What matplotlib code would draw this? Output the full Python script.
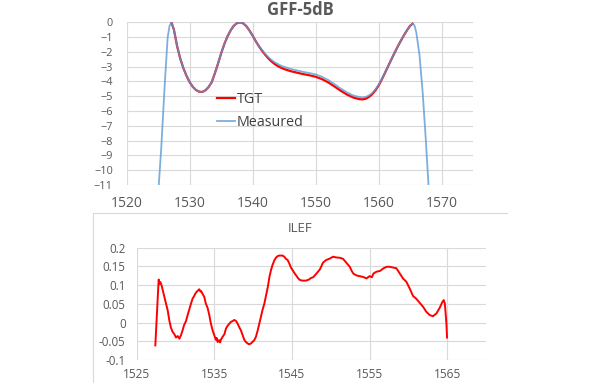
import matplotlib
matplotlib.use('Agg')
import matplotlib.pyplot as plt
from matplotlib.lines import Line2D

plt.rcParams['font.family'] = ['Open Sans', 'DejaVu Sans']

# GFF-5dB: wavelength (nm) and loss (dB)
gff_wl = [1525.0, 1525.5, 1526.0, 1526.5, 1526.8, 1527.1, 1527.5, 1528.0,
          1528.5, 1529.0, 1529.5, 1530.0, 1530.5, 1531.0, 1531.5, 1532.0,
          1532.5, 1533.0, 1533.5, 1534.0, 1534.5, 1535.0, 1535.5, 1536.0,
          1536.5, 1537.0, 1537.5, 1538.0, 1538.5, 1539.0, 1539.5, 1540.0,
          1540.5, 1541.0, 1541.5, 1542.0, 1542.5, 1543.0, 1543.5, 1544.0,
          1544.5, 1545.0, 1546.0, 1547.0, 1548.0, 1549.0, 1550.0, 1551.0,
          1552.0, 1553.0, 1554.0, 1555.0, 1556.0, 1557.0, 1557.5, 1558.0,
          1558.5, 1559.0, 1559.5, 1560.0, 1560.5, 1561.0, 1561.5, 1562.0,
          1562.5, 1563.0, 1563.5, 1564.0, 1564.5, 1565.0, 1565.4, 1565.7,
          1566.0, 1566.5, 1567.0, 1567.5, 1568.0]
measured = [-11.6, -8.4, -4.5, -1.05, -0.25, 0.0, -0.5, -1.6,
            -2.45, -3.1, -3.62, -4.05, -4.36, -4.58, -4.69, -4.71,
            -4.6, -4.38, -4.05, -3.45, -2.8, -2.1, -1.48, -0.96,
            -0.55, -0.24, -0.06, 0.0, -0.07, -0.26, -0.56, -0.9,
            -1.28, -1.6, -1.88, -2.14, -2.36, -2.55, -2.7, -2.82,
            -2.93, -3.01, -3.15, -3.25, -3.35, -3.43, -3.52, -3.68,
            -3.9, -4.18, -4.48, -4.74, -4.95, -5.06, -5.08, -5.04,
            -4.94, -4.78, -4.54, -4.24, -3.86, -3.43, -2.99, -2.54,
            -2.1, -1.68, -1.28, -0.9, -0.55, -0.24, -0.1, -0.2,
            -0.7, -2.2, -4.7, -7.9, -11.5]

# target is only given across the band
tgt_wl = gff_wl[5:71]
tgt = [0.0, -0.5, -1.6,
       -2.45, -3.1, -3.62, -4.05, -4.36, -4.58, -4.69, -4.71,
       -4.6, -4.38, -4.05, -3.45, -2.8, -2.1, -1.48, -0.96,
       -0.55, -0.24, -0.06, 0.0, -0.07, -0.26, -0.56, -0.9,
       -1.28, -1.62, -1.92, -2.2, -2.44, -2.65, -2.82, -2.96,
       -3.07, -3.16, -3.3, -3.4, -3.5, -3.58, -3.68, -3.84,
       -4.06, -4.34, -4.63, -4.89, -5.09, -5.2, -5.21, -5.16,
       -5.04, -4.86, -4.6, -4.28, -3.88, -3.44, -2.99, -2.54,
       -2.1, -1.68, -1.28, -0.9, -0.55, -0.24, -0.1]

# ILEF
ilef_wl = [1527.4, 1527.83, 1527.95, 1528.05, 1528.2, 1528.35, 1528.45,
           1528.56, 1528.77, 1528.99, 1529.2, 1529.4, 1529.63, 1529.85,
           1530.06, 1530.28, 1530.5, 1530.7, 1530.92, 1531.1, 1531.35,
           1531.56, 1531.8, 1532.0, 1532.2, 1532.4, 1532.6, 1532.85, 1533.06,
           1533.2, 1533.3, 1533.5, 1533.7, 1533.9, 1534.14, 1534.35, 1534.56,
           1534.78, 1535.0, 1535.2, 1535.3, 1535.43, 1535.6, 1535.75, 1535.86,
           1536.07, 1536.3, 1536.5, 1536.7, 1536.93, 1537.15, 1537.36, 1537.57,
           1537.8, 1538.0, 1538.2, 1538.43, 1538.65, 1538.86, 1539.07, 1539.3,
           1539.5, 1539.7, 1539.9, 1540.15, 1540.36, 1540.6, 1540.8, 1541.0,
           1541.2, 1541.45, 1541.67, 1541.9, 1542.1, 1542.3, 1542.5, 1542.75,
           1542.96, 1543.2, 1543.4, 1543.6, 1543.8, 1544.0, 1544.2, 1544.44,
           1544.66, 1544.87, 1545.08, 1545.3, 1545.5, 1545.7, 1545.94, 1546.15,
           1546.37, 1546.8, 1547.2, 1547.45, 1547.73, 1548.16, 1548.6, 1549.0,
           1549.4, 1549.88, 1550.3, 1550.7, 1551.2, 1551.6, 1552.0, 1552.45,
           1552.7, 1552.9, 1553.3, 1553.7, 1554.17, 1554.6, 1555.0, 1555.3,
           1555.5, 1555.9, 1556.35, 1556.8, 1557.2, 1557.6, 1558.0, 1558.46,
           1558.9, 1559.3, 1559.74, 1560.17, 1560.6, 1561.0, 1561.45, 1561.9,
           1562.3, 1562.75, 1563.17, 1563.6, 1564.0, 1564.38, 1564.55, 1564.7,
           1564.9, 1564.98]
ilef = [-0.061, 0.115, 0.104, 0.108, 0.1, 0.087, 0.079,
        0.069, 0.051, 0.033, 0.006, -0.013, -0.025, -0.031,
        -0.04, -0.036, -0.043, -0.034, -0.02, -0.007, 0.004,
        0.02, 0.037, 0.051, 0.064, 0.071, 0.079, 0.085, 0.089,
        0.083, 0.084, 0.076, 0.069, 0.051, 0.039, 0.02, -0.003,
        -0.021, -0.034, -0.046, -0.041, -0.052, -0.047, -0.053, -0.045,
        -0.038, -0.031, -0.016, -0.009, -0.003, 0.002, 0.004, 0.007,
        0.004, -0.003, -0.012, -0.021, -0.034, -0.046, -0.052, -0.056,
        -0.058, -0.056, -0.052, -0.047, -0.038, -0.02, -0.003, 0.015,
        0.033, 0.051, 0.073, 0.096, 0.122, 0.14, 0.154, 0.167,
        0.174, 0.178, 0.179, 0.179, 0.179, 0.176, 0.171, 0.167,
        0.158, 0.147, 0.14, 0.133, 0.127, 0.121, 0.115, 0.113,
        0.112, 0.112, 0.115, 0.119, 0.121, 0.131, 0.142, 0.16,
        0.167, 0.171, 0.176, 0.174, 0.173, 0.17, 0.16, 0.149,
        0.138, 0.131, 0.126, 0.124, 0.122, 0.118, 0.124, 0.121,
        0.131, 0.136, 0.138, 0.145, 0.149, 0.149, 0.147, 0.145,
        0.131, 0.118, 0.109, 0.091, 0.071, 0.064, 0.053, 0.042,
        0.029, 0.02, 0.017, 0.024, 0.038, 0.055, 0.06, 0.051,
        -0.003, -0.04]

grid_c = '#d9d9d9'
txt_c = '#595959'

fig = plt.figure(figsize=(6, 3.83), dpi=100)

# top chart
ax1 = fig.add_axes([126.7 / 600, 1 - 185 / 383, 346.3 / 600, 162.7 / 383])
ax1.plot(tgt_wl, tgt, color='#ff0000', lw=1.6, label='TGT')
ax1.plot(gff_wl, measured, color='#5b9bd5', lw=1.3, alpha=0.8,
         label='Measured')
ax1.set_xlim(1520, 1575)
ax1.set_ylim(-11, 0)
ax1.set_xticks(range(1520, 1571, 10))
ax1.set_yticks(range(-11, 1))
ax1.grid(True, color=grid_c, lw=0.8)
ax1.set_axisbelow(True)
for s in ax1.spines.values():
    s.set_visible(False)
ax1.tick_params(axis='x', length=0, pad=8, labelsize=10, labelcolor=txt_c)
ax1.tick_params(axis='y', length=0, pad=10, labelsize=7.8, labelcolor=txt_c)
ax1.legend(loc='upper left', bbox_to_anchor=(217 / 600, 1 - 92 / 383),
           bbox_transform=fig.transFigure, frameon=False, fontsize=10.3,
           borderpad=0, borderaxespad=0, handlelength=1.25,
           handletextpad=0.15, labelspacing=0.55, labelcolor='#404040')

# bottom chart
ax2 = fig.add_axes([136.7 / 600, 1 - 360 / 383, 349.3 / 600, 112.3 / 383])
ax2.plot(ilef_wl, ilef, color='#ff0000', lw=1.4)
ax2.set_xlim(1525, 1570)
ax2.set_ylim(-0.1, 0.2)
ax2.set_xticks(range(1525, 1566, 10))
ax2.set_yticks([-0.1, -0.05, 0, 0.05, 0.1, 0.15, 0.2])
ax2.set_yticklabels(['-0.1', '-0.05', '0', '0.05', '0.1', '0.15', '0.2'])
ax2.grid(True, color=grid_c, lw=0.8)
ax2.set_axisbelow(True)
for s in ax2.spines.values():
    s.set_visible(False)
ax2.tick_params(axis='x', length=0, pad=6, labelsize=8.6, labelcolor=txt_c)
ax2.tick_params(axis='y', length=0, pad=8, labelsize=8.3, labelcolor=txt_c)

fig.text(0.5, 1 - 10 / 383, 'GFF-5dB', ha='center', va='center',
         fontsize=12, fontweight='bold', color=txt_c)
fig.text(0.5, 1 - 229 / 383, 'ILEF', ha='center', va='center',
         fontsize=9.5, color=txt_c)

# chart frame lines
fig.add_artist(Line2D([93 / 600, 507 / 600], [1 - 213 / 383] * 2,
                      color=grid_c, lw=0.8, transform=fig.transFigure))
fig.add_artist(Line2D([93 / 600] * 2, [0, 1 - 213 / 383],
                      color=grid_c, lw=0.8, transform=fig.transFigure))

fig.savefig('out.png', dpi=100)
